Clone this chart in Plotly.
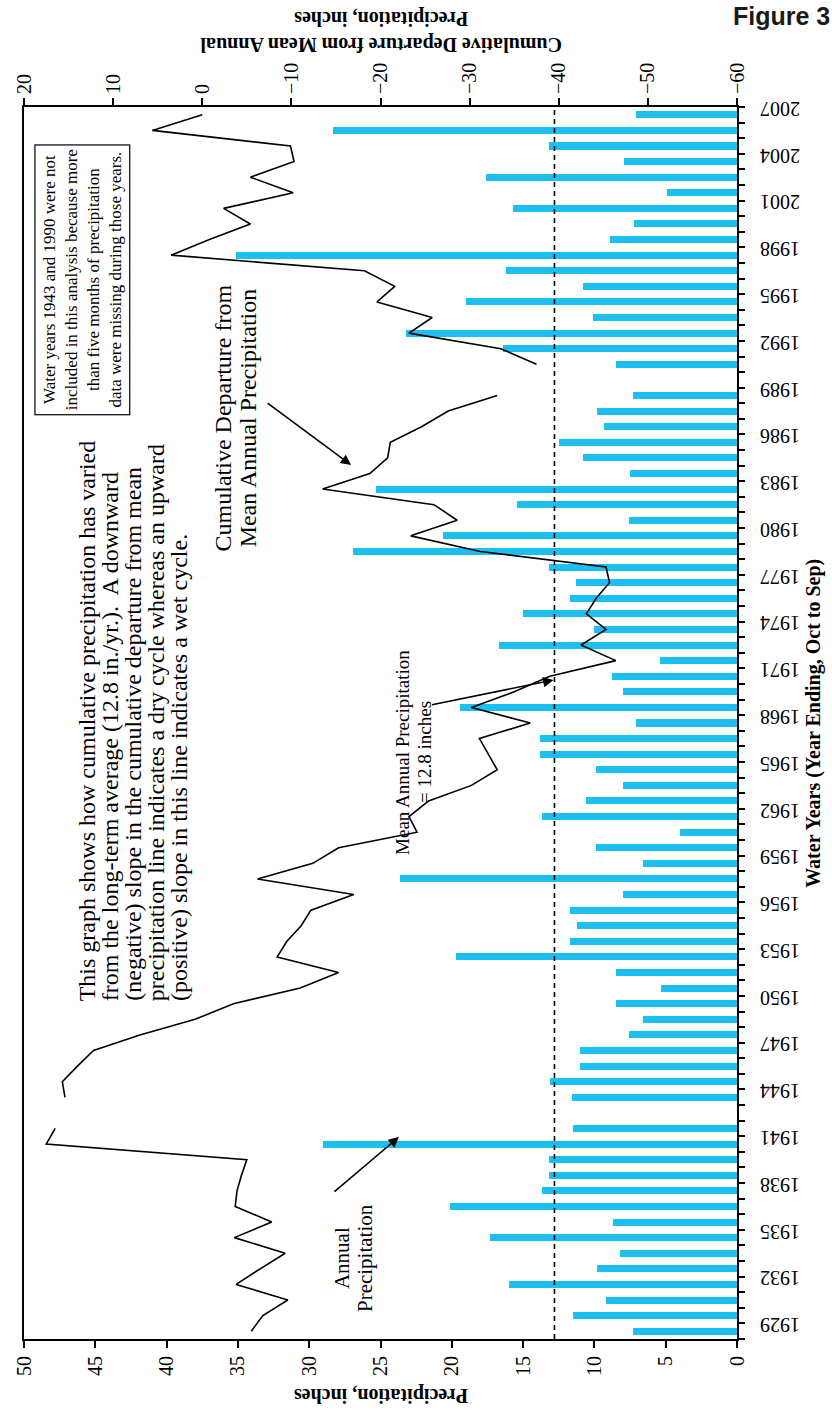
import plotly.graph_objects as go

# Annual precipitation by water year (1943 and 1990 have no record)
years = [1929, 1930, 1931, 1932, 1933, 1934, 1935, 1936, 1937, 1938, 1939, 1940,
         1941, 1942, 1944, 1945, 1946, 1947, 1948, 1949, 1950, 1951, 1952, 1953,
         1954, 1955, 1956, 1957, 1958, 1959, 1960, 1961, 1962, 1963, 1964, 1965,
         1966, 1967, 1968, 1969, 1970, 1971, 1972, 1973, 1974, 1975, 1976, 1977,
         1978, 1979, 1980, 1981, 1982, 1983, 1984, 1985, 1986, 1987, 1988, 1989,
         1991, 1992, 1993, 1994, 1995, 1996, 1997, 1998, 1999, 2000, 2001, 2002,
         2003, 2004, 2005, 2006, 2007]
precip = [7.3, 11.5, 9.2, 16.0, 9.8, 8.2, 17.3, 8.7, 20.1, 13.7, 13.2, 13.2,
          29.0, 11.5, 11.6, 13.1, 11.0, 11.0, 7.6, 6.6, 8.5, 5.3, 8.5, 19.7,
          11.7, 11.2, 11.7, 8.0, 23.6, 6.6, 9.9, 4.0, 13.7, 10.6, 8.0, 9.9,
          13.8, 13.8, 7.1, 19.4, 8.0, 8.8, 5.4, 16.7, 10.0, 15.0, 11.7, 11.3,
          13.2, 26.9, 20.6, 7.6, 15.4, 25.3, 7.5, 10.8, 12.5, 9.3, 9.8, 7.3,
          8.5, 16.4, 23.2, 10.1, 19.0, 10.8, 16.2, 35.1, 8.9, 7.2, 15.7, 4.9,
          17.6, 7.9, 13.2, 28.3, 7.1]

# Cumulative departure from mean annual precipitation (None = missing year)
cum_years = list(range(1929, 2008))
cum_dep = [-5.5, -6.8, -9.6, -3.8, -6.5, -9.3, -3.6, -7.8, -3.7, -3.9, -4.4, -5.0,
           17.5, 16.5, None, 15.4, 15.7, 14.0, 12.2, 7.0, 0.8, -3.5, -11.0, -15.3,
           -8.4, -9.5, -11.1, -12.2, -17.0, -6.2, -12.4, -15.3, -24.1, -23.2, -25.4,
           -30.2, -33.1, -32.1, -31.1, -36.8, -30.2, -35.0, -39.0, -46.4, -42.5, -45.3,
           -43.1, -44.2, -45.7, -45.3, -31.2, -23.4, -28.6, -26.0, -13.5, -18.8, -20.8,
           -21.1, -24.6, -27.6, -33.1, None, -37.5, -33.5, -23.2, -25.8, -19.6, -21.6,
           -18.2, 3.5, -0.8, -5.4, -2.4, -10.2, -5.4, -10.3, -9.9, 5.6, 0.0]

mean_annual = 12.8
year_ticks = list(range(1929, 2008, 3))
precip_ticks = list(range(0, 51, 5))
cum_ticks = list(range(-60, 21, 10))

W, H = 832, 1412
L, R, T, B = 22, 737, 107, 1339          # plot frame in pixels
BLUE = "#1CBFF0"
SERIF = "Liberation Serif, Times New Roman, serif"


def px(x):
    return (x - L) / (R - L)


def py(y):
    return (B - y) / (B - T)


fig = go.Figure()

fig.add_trace(go.Bar(
    x=precip, y=years, orientation="h", width=0.45,
    marker=dict(color=BLUE, line=dict(width=0)),
    xaxis="x", yaxis="y", hoverinfo="skip",
))
fig.add_trace(go.Scatter(
    x=cum_dep, y=cum_years, mode="lines", connectgaps=False,
    line=dict(color="black", width=1.6),
    xaxis="x2", yaxis="y", hoverinfo="skip",
))

axis_font = dict(family=SERIF, size=20, color="black")
cross_in = dict(ticks="inside", ticklen=7, tickwidth=1.5, tickcolor="black",
                showticklabels=False, showline=False, showgrid=False, zeroline=False)

fig.update_layout(
    width=W, height=H,
    margin=dict(l=L, r=W - R, t=T, b=H - B, pad=0),
    paper_bgcolor="white", plot_bgcolor="white",
    showlegend=False, bargap=0,
    xaxis=dict(
        domain=[0, 1], range=[50, 0], side="bottom",
        tickmode="array", tickvals=precip_ticks, tickangle=-90,
        ticks="outside", ticklen=7, tickwidth=1.5, tickcolor="black",
        showline=True, linecolor="black", linewidth=2,
        showgrid=False, zeroline=False, tickfont=axis_font,
    ),
    xaxis3=dict(overlaying="x", range=[50, 0], side="bottom",
                tickmode="array", tickvals=precip_ticks, **cross_in),
    xaxis2=dict(
        overlaying="x", range=[20, -60], side="top",
        tickmode="array", tickvals=cum_ticks, tickangle=-90,
        ticks="outside", ticklen=7, tickwidth=1.5, tickcolor="black",
        showline=True, linecolor="black", linewidth=2,
        showgrid=False, zeroline=False, tickfont=axis_font,
    ),
    xaxis4=dict(overlaying="x", range=[20, -60], side="top",
                tickmode="array", tickvals=cum_ticks, **cross_in),
    yaxis=dict(
        domain=[0, 1], range=[1928.5, 2007.5], side="right",
        tickmode="array", tickvals=year_ticks, ticktext=[str(v) for v in year_ticks],
        tickangle=180, ticks="outside", ticklen=0, ticklabelstandoff=57,
        minor=dict(tick0=1928.5, dtick=1, ticks="outside", ticklen=6,
                   tickwidth=1.5, tickcolor="black"),
        showline=True, linecolor="black", linewidth=2, mirror=True,
        showgrid=False, zeroline=False, tickfont=axis_font,
    ),
)

# mean annual precipitation reference line
fig.add_shape(type="line", xref="x", yref="paper", x0=mean_annual, x1=mean_annual,
              y0=0, y1=1, line=dict(color="black", width=1.6, dash="5px,4px"))

ann = []


def text(t, x, y, size, angle=-90, xa="center", ya="middle", **kw):
    ann.append(dict(text=t, x=px(x), y=py(y), textangle=angle, xanchor=xa, yanchor=ya,
                    font=dict(family=SERIF, size=size, color="black"), **kw))


# axis titles
text("<b>Precipitation, inches</b>", 380, 1396, 20, angle=180)
text("<b>Cumulative Departure from Mean Annual<br>Precipitation, inches</b>", 380, 31, 20,
     angle=180)
text("<b>Water Years (Year Ending, Oct to Sep)</b>", 813, 723, 20)

# explanatory paragraph, one line per annotation so the leading stays tight
para = ["This graph shows how cumulative precipitation has varied",
        "from the long-term average (12.8 in./yr.).  A downward",
        "(negative) slope in the cumulative departure from mean",
        "precipitation line indicates a dry cycle whereas an upward",
        "(positive) slope in this line indicates a wet cycle."]
for i, line in enumerate(para):
    text(line, 85 + 23 * i, 1003, 24, ya="bottom")

for i, line in enumerate(["Annual", "Precipitation"]):
    text(line, 341 + 23 * i, 1258, 21)
for i, line in enumerate(["Mean Annual Precipitation", "= 12.8 inches"]):
    text(line, 401 + 22 * i, 752, 19)
for i, line in enumerate(["Cumulative Departure from", "Mean Annual Precipitation"]):
    text(line, 222 + 25 * i, 418, 24)

text("Water years 1943 and 1990 were not<br>included in this analysis because more<br>"
     "than five months of precipitation<br>data were missing during those years.",
     80.5, 280, 17, bordercolor="black", borderwidth=1.2, borderpad=4, bgcolor="white")

# arrows
for hx, hy, tx, ty in [(398, 1137, 332, 1193), (553, 680, 430, 705), (350, 465, 265, 402)]:
    ann.append(dict(text="", x=px(hx), y=py(hy), ax=tx - hx, ay=ty - hy, showarrow=True,
                    arrowhead=2, arrowsize=1.3, arrowwidth=1.6, arrowcolor="black"))

ann.append(dict(text="<b>Figure 3</b>", x=px(W), y=py(0), xanchor="right", yanchor="top",
                font=dict(family="Liberation Sans, Arial, sans-serif", size=25,
                          color="#1a1a1a")))

for a in ann:
    a.setdefault("xref", "paper")
    a.setdefault("yref", "paper")
    a.setdefault("showarrow", False)
    fig.add_annotation(**a)

fig.write_html("out.html")
